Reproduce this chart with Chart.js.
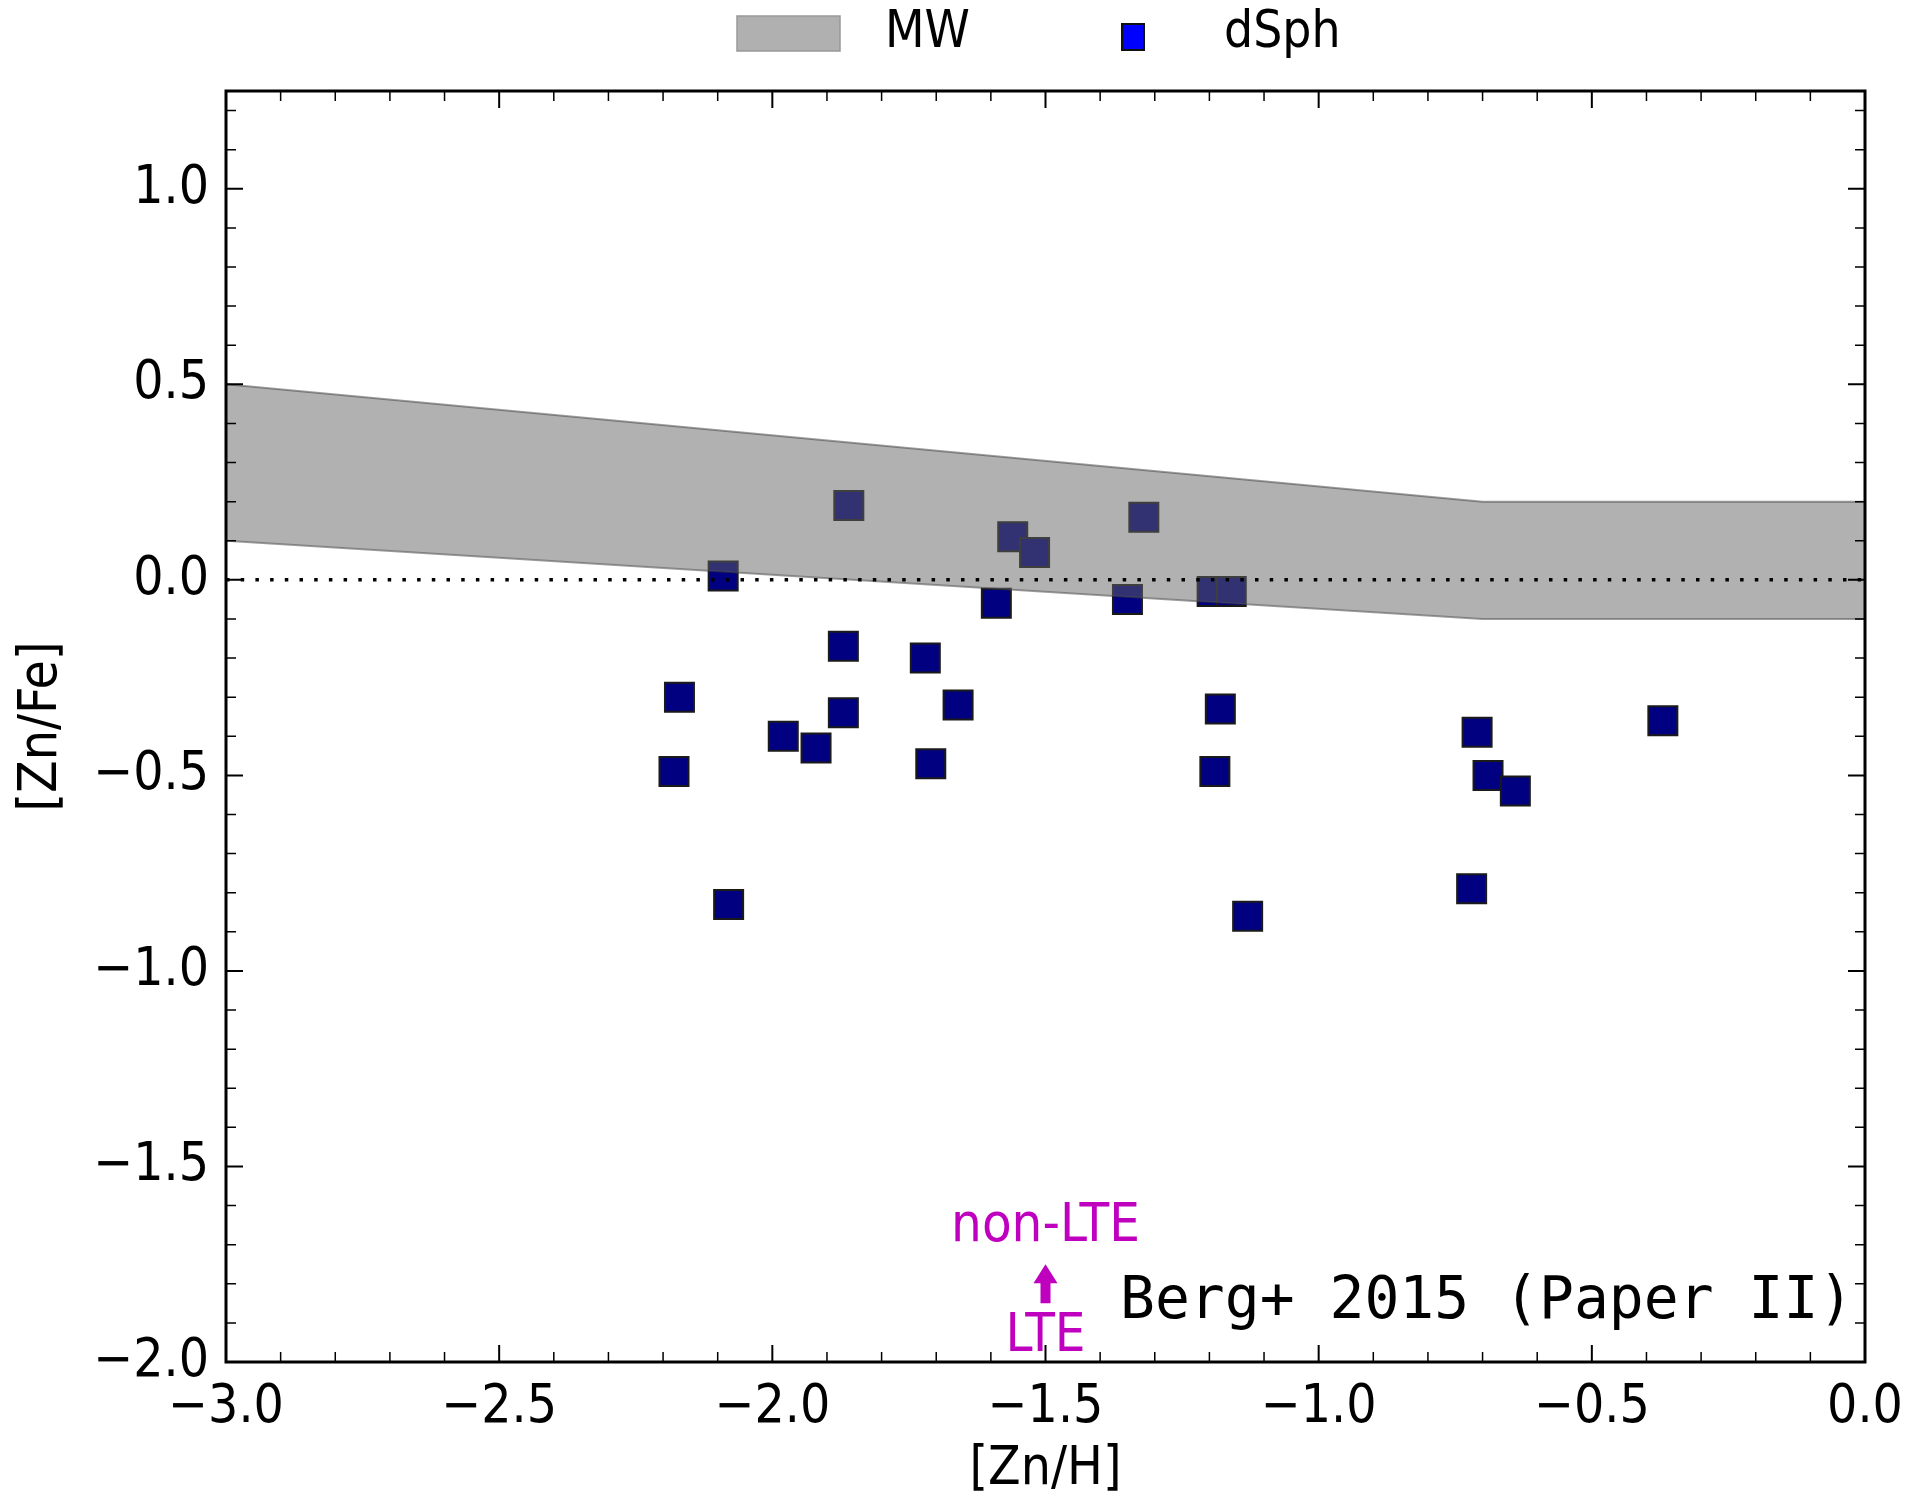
<!DOCTYPE html>
<html>
<head>
<meta charset="utf-8">
<script src="https://cdn.jsdelivr.net/npm/chart.js@4.4.1/dist/chart.umd.min.js"></script>
<style>
  html, body { margin: 0; padding: 0; background: #fff; }
  #wrap { width: 1909px; height: 1498px; }
</style>
</head>
<body>
<div id="wrap"><canvas id="chart" width="1909" height="1498"></canvas></div>
<script>
// dSph stars: [Zn/H] and [Zn/Fe]
const znH = [-2.09, -1.86, -1.56, -1.52, -1.32, -1.59, -1.35, -1.195, -1.16,
  -2.17, -2.18, -1.98, -1.92, -1.87, -1.87, -1.72, -1.71, -1.66, -2.08,
  -1.18, -1.19, -1.13, -0.71, -0.69, -0.64, -0.72, -0.37];
const znFe = [0.01, 0.19, 0.11, 0.07, 0.16, -0.06, -0.05, -0.03, -0.03,
  -0.30, -0.49, -0.40, -0.43, -0.17, -0.34, -0.20, -0.47, -0.32, -0.83,
  -0.33, -0.49, -0.86, -0.39, -0.50, -0.54, -0.79, -0.36];

// Milky Way band
const mwX = [-3.0, -0.7, 0.0];
const mwHigh = [0.5, 0.2, 0.2];
const mwLow = [0.1, -0.1, -0.1];

const xTicks = [-3.0, -2.5, -2.0, -1.5, -1.0, -0.5, 0.0];
const yTicks = [-2.0, -1.5, -1.0, -0.5, 0.0, 0.5, 1.0];

const FONT = "'DejaVu Sans Condensed', 'DejaVu Sans', sans-serif";
const fmt = v => (v < 0 ? "\u2212" : "") + Math.abs(v).toFixed(1);
const pts = (xs, ys) => xs.map((x, i) => ({ x: x, y: ys[i] }));

const extras = {
  id: "extras",
  afterDatasetsDraw(chart) {
    const { ctx, chartArea: a, scales: { x, y } } = chart;
    ctx.save();
    ctx.strokeStyle = "#000";
    // inward ticks on all four sides
    for (let i = 0; i <= 30; i++) {
      const px = x.getPixelForValue(-3 + i * 0.1);
      const len = i % 5 === 0 ? 17 : 10;
      ctx.lineWidth = i % 5 === 0 ? 2 : 1.5;
      ctx.beginPath();
      ctx.moveTo(px, a.bottom); ctx.lineTo(px, a.bottom - len);
      ctx.moveTo(px, a.top); ctx.lineTo(px, a.top + len);
      ctx.stroke();
    }
    for (let i = 0; i <= 32; i++) {
      const py = y.getPixelForValue(-2 + i * 0.1);
      const len = i % 5 === 0 ? 17 : 10;
      ctx.lineWidth = i % 5 === 0 ? 2 : 1.5;
      ctx.beginPath();
      ctx.moveTo(a.left, py); ctx.lineTo(a.left + len, py);
      ctx.moveTo(a.right, py); ctx.lineTo(a.right - len, py);
      ctx.stroke();
    }
    ctx.lineWidth = 3;
    ctx.strokeRect(a.left, a.top, a.right - a.left, a.bottom - a.top);

    // non-LTE / LTE arrow
    const ax = x.getPixelForValue(-1.5);
    const tail = y.getPixelForValue(-1.85), tip = y.getPixelForValue(-1.75);
    ctx.fillStyle = "#bf00bf";
    ctx.beginPath();
    ctx.moveTo(ax - 5, tail); ctx.lineTo(ax - 5, tip + 19);
    ctx.lineTo(ax - 12, tip + 19); ctx.lineTo(ax, tip);
    ctx.lineTo(ax + 12, tip + 19); ctx.lineTo(ax + 5, tip + 19);
    ctx.lineTo(ax + 5, tail); ctx.closePath(); ctx.fill();
    ctx.font = "54px " + FONT;
    ctx.textAlign = "center"; ctx.textBaseline = "middle";
    ctx.fillText("non-LTE", ax, y.getPixelForValue(-1.655));
    ctx.fillText("LTE", ax, y.getPixelForValue(-1.935));

    ctx.fillStyle = "#000";
    ctx.font = "58px 'DejaVu Sans Mono', monospace";
    ctx.textAlign = "left";
    ctx.fillText("Berg+ 2015 (Paper II)", 1120, 1303);

    // legend
    ctx.font = "51px " + FONT;
    ctx.fillStyle = "#b0b0b0";
    ctx.fillRect(737, 16, 103, 35);
    ctx.strokeStyle = "#999"; ctx.lineWidth = 1.5;
    ctx.strokeRect(737, 16, 103, 35);
    ctx.fillStyle = "#000";
    ctx.fillText("MW", 885, 34);
    ctx.fillStyle = "#0000ff";
    ctx.fillRect(1122, 24, 22, 26);
    ctx.strokeStyle = "#111"; ctx.lineWidth = 2;
    ctx.strokeRect(1122, 24, 22, 26);
    ctx.fillStyle = "#000";
    ctx.fillText("dSph", 1224, 34);
    ctx.restore();
  }
};

new Chart(document.getElementById("chart"), {
  type: "scatter",
  data: {
    datasets: [
      {
        label: "zero",
        data: pts([-3.0, 0.0], [0, 0]),
        showLine: true,
        borderColor: "#000",
        borderWidth: 3.5,
        borderDash: [3.5, 11.2],
        pointRadius: 0,
        order: -1
      },
      {
        label: "MW",
        data: pts(mwX, mwHigh),
        showLine: true,
        borderColor: "rgba(60,60,60,0.5)",
        borderWidth: 2,
        backgroundColor: "rgba(99,99,99,0.5)",
        fill: "+1",
        pointRadius: 0,
        order: 0
      },
      {
        label: "MW low",
        data: pts(mwX, mwLow),
        showLine: true,
        borderColor: "rgba(60,60,60,0.5)",
        borderWidth: 2,
        pointRadius: 0,
        order: 0
      },
      {
        label: "dSph",
        data: pts(znH, znFe),
        pointStyle: "rect",
        pointRadius: 20.5,
        pointBackgroundColor: "#000080",
        pointBorderColor: "#1a1a1a",
        pointBorderWidth: 2,
        order: 1
      }
    ]
  },
  options: {
    responsive: false,
    animation: false,
    layout: { padding: { top: 91, right: 44, left: 0, bottom: 0 } },
    plugins: { legend: { display: false }, tooltip: { enabled: false } },
    scales: {
      x: {
        type: "linear", min: -3, max: 0,
        grid: { display: false, drawTicks: false },
        border: { display: false },
        afterBuildTicks: s => { s.ticks = xTicks.map(v => ({ value: v })); },
        afterFit: s => { s.height = 136; s.paddingLeft = 0; s.paddingRight = 0; },
        ticks: { padding: 14, color: "#000", font: { family: FONT, size: 53 }, callback: fmt, maxRotation: 0 },
        title: { display: true, text: "[Zn/H]", color: "#000", padding: { top: 0, bottom: 1 },
          font: { family: FONT, size: 53, lineHeight: 1 } }
      },
      y: {
        type: "linear", min: -2, max: 1.25,
        grid: { display: false, drawTicks: false },
        border: { display: false },
        afterBuildTicks: s => { s.ticks = yTicks.map(v => ({ value: v })); },
        afterFit: s => { s.width = 226; s.paddingTop = 0; s.paddingBottom = 0; },
        ticks: { padding: 17, color: "#000", font: { family: FONT, size: 53 }, callback: fmt },
        title: { display: true, text: "[Zn/Fe]", color: "#000", padding: { top: 16, bottom: 16 },
          font: { family: FONT, size: 53, lineHeight: 1 } }
      }
    }
  },
  plugins: [extras]
});
</script>
</body>
</html>
